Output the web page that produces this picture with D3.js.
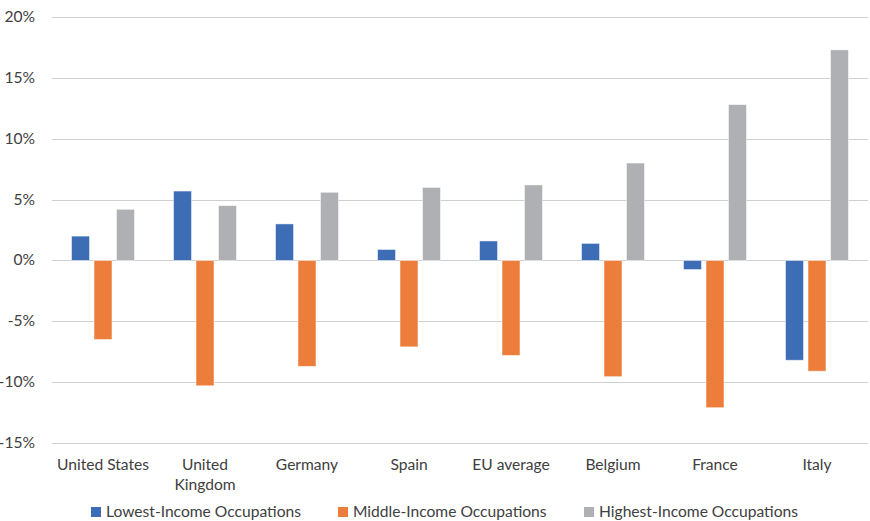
<!DOCTYPE html>
<html>
<head>
<meta charset="utf-8">
<script src="https://cdn.jsdelivr.net/npm/d3@7"></script>
<style>
  body { margin: 0; background: #fff; }
  svg { display: block; font-family: Lato, "Open Sans", sans-serif; }
</style>
</head>
<body>
<svg width="870" height="521"></svg>
<script>
// categories and series
var countries = ['United States', 'United Kingdom', 'Germany', 'Spain', 'EU average', 'Belgium', 'France', 'Italy'];
var seriesNames = ['Lowest-Income Occupations', 'Middle-Income Occupations', 'Highest-Income Occupations'];
var lowest = [2.0, 5.7, 3.0, 0.9, 1.6, 1.4, -0.75, -8.2];
var middle = [-6.5, -10.3, -8.7, -7.1, -7.8, -9.55, -12.1, -9.1];
var highest = [4.2, 4.5, 5.6, 6.0, 6.2, 8.0, 12.8, 17.3];
var yTicks = [-15, -10, -5, 0, 5, 10, 15, 20];
var colors = ['#3d6db5', '#ed7d3a', '#afb0b3'];

var svg = d3.select('svg');
var plotL = 52, plotR = 868, plotT = 17, plotB = 443;
var fs = 15.6;

var y = d3.scaleLinear().domain([-15, 20]).range([plotB, plotT]);
var x0 = d3.scaleBand().domain(countries).range([plotL, plotR]).padding(0);
var x1 = d3.scaleBand().domain(seriesNames).range([0, x0.bandwidth()])
  .paddingInner(0.2).paddingOuter(0.87);

// grid
svg.append('g')
  .selectAll('line').data(yTicks).enter().append('line')
  .attr('x1', plotL).attr('x2', plotR)
  .attr('y1', function (d) { return Math.round(y(d)) + 0.5; })
  .attr('y2', function (d) { return Math.round(y(d)) + 0.5; })
  .attr('stroke', '#d0d0d0').attr('stroke-width', 1.2);

// y labels
svg.append('g')
  .selectAll('text').data(yTicks).enter().append('text')
  .attr('x', 35).attr('y', function (d) { return y(d) + 5; })
  .attr('text-anchor', 'end')
  .attr('font-size', fs).attr('fill', '#404040')
  .text(function (d) { return d + '%'; });

// bars
var rows = countries.map(function (c, i) {
  return { c: c, v: [lowest[i], middle[i], highest[i]] };
});
var groups = svg.append('g').selectAll('g').data(rows).enter().append('g')
  .attr('transform', function (d) { return 'translate(' + x0(d.c) + ',0)'; });
groups.selectAll('rect').data(function (d) {
  return d.v.map(function (v, j) { return { s: seriesNames[j], v: v, j: j }; });
}).enter().append('rect')
  .attr('x', function (d) { return x1(d.s); })
  .attr('width', x1.bandwidth())
  .attr('y', function (d) { return y(Math.max(0, d.v)); })
  .attr('height', function (d) { return Math.abs(y(d.v) - y(0)); })
  .attr('fill', function (d) { return colors[d.j]; })
  .attr('stroke', '#fff').attr('stroke-opacity', 0.6).attr('stroke-width', 0.8);

// x labels
var xl = svg.append('g').selectAll('text').data(countries).enter().append('text')
  .attr('x', function (d) { return x0(d) + x0.bandwidth() / 2; })
  .attr('y', 470)
  .attr('text-anchor', 'middle')
  .attr('font-size', fs).attr('fill', '#404040');
xl.each(function (d) {
  var t = d3.select(this);
  var parts = d === 'United Kingdom' ? ['United', 'Kingdom'] : [d];
  parts.forEach(function (p, k) {
    t.append('tspan').attr('x', t.attr('x')).attr('dy', k ? 20 : 0).text(p);
  });
});

// legend
var legX = [91, 338, 584];
var leg = svg.append('g').selectAll('g').data(seriesNames).enter().append('g')
  .attr('transform', function (d, i) { return 'translate(' + legX[i] + ',507)'; });
leg.append('rect').attr('width', 10).attr('height', 10)
  .attr('fill', function (d, i) { return colors[i]; });
leg.append('text').attr('x', 15).attr('y', 10)
  .attr('font-size', fs).attr('fill', '#404040')
  .text(function (d) { return d; });
</script>
</body>
</html>
